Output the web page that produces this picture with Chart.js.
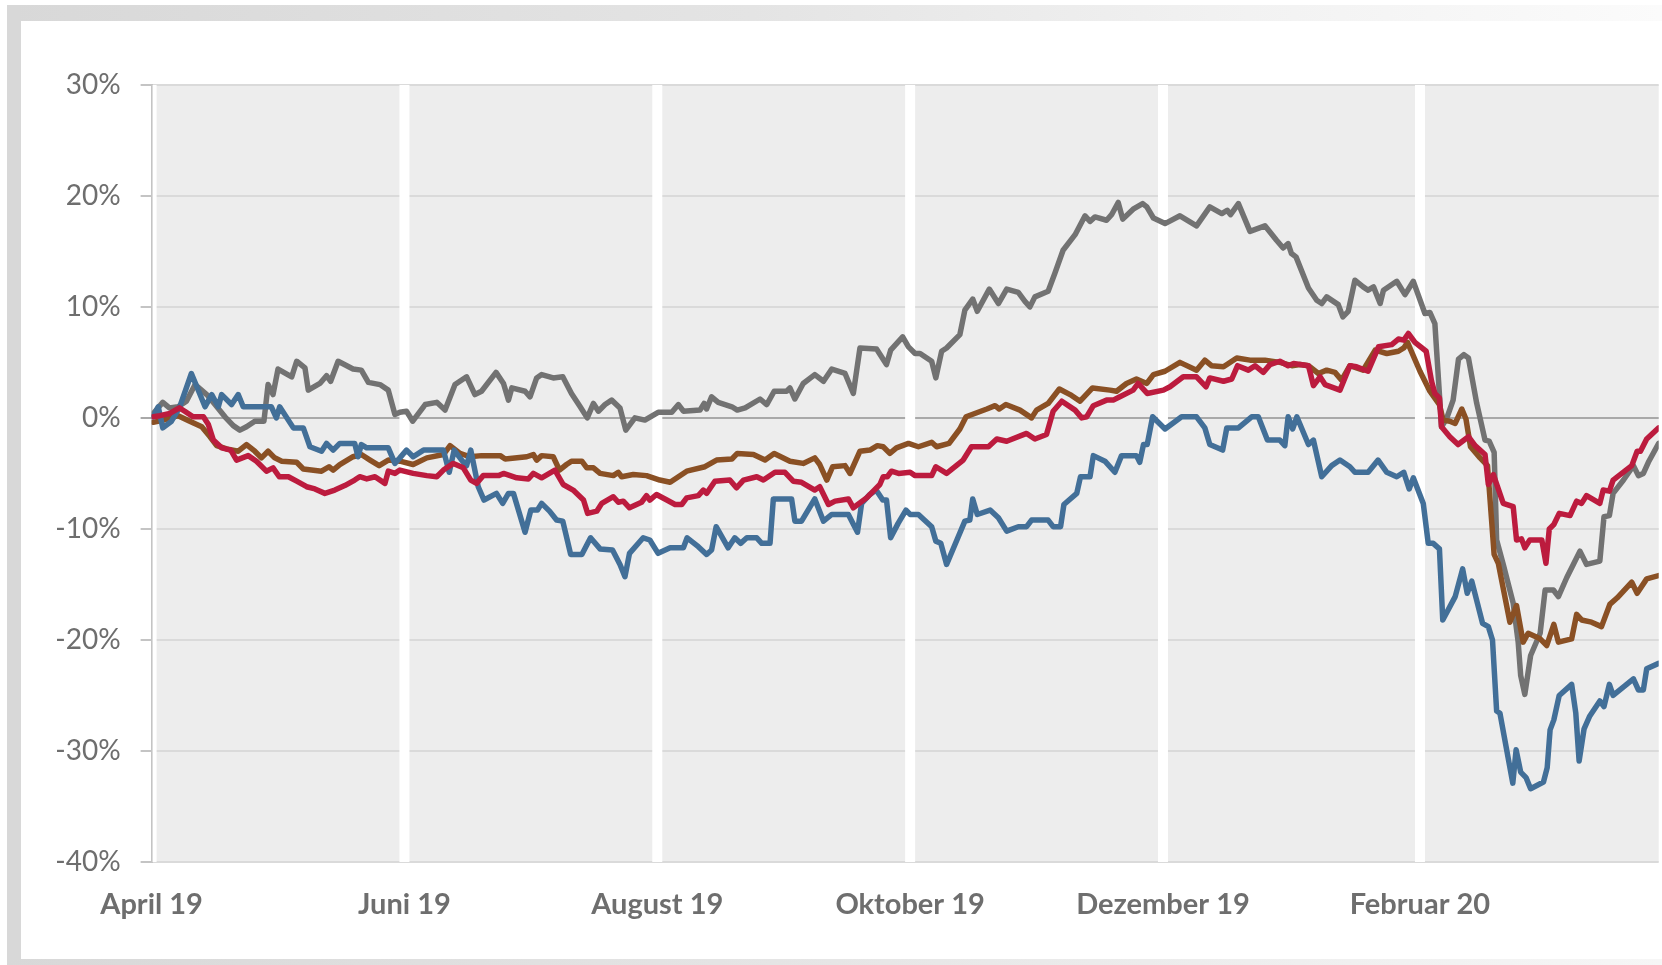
<!DOCTYPE html>
<html><head><meta charset="utf-8">
<script src="https://cdn.jsdelivr.net/npm/chart.js@4.4.1/dist/chart.umd.min.js"></script>
<style>
html,body{margin:0;padding:0;background:#fff;width:1662px;height:965px;overflow:hidden;}
#ftop{position:absolute;left:7px;top:5px;width:1655px;height:16px;background:linear-gradient(to right,#d8d8d8,#e4e4e4 45%,#f2f2f2 75%,#fbfbfb);}
#fleft{position:absolute;left:7px;top:5px;width:14px;height:960px;background:#d8d8d8;}
#fbottom{position:absolute;left:7px;top:959px;width:1655px;height:6px;background:linear-gradient(to right,#d8d8d8,#e6e6e6 50%,#f6f6f6);}
#c{position:absolute;left:0;top:0;}
</style></head>
<body>
<div id="ftop"></div><div id="fleft"></div><div id="fbottom"></div>
<canvas id="c" width="1662" height="965"></canvas>
<script>
// Day offsets since 1 April 2019
const monthTicks = [0, 61, 122, 183, 244, 306];
const monthLabels = ['April 19', 'Juni 19', 'August 19', 'Oktober 19', 'Dezember 19', 'Februar 20'];
const yTickValues = [-40, -30, -20, -10, 0, 10, 20, 30];

const grayDays = [0,2.7,4.3,6.4,8.4,10.5,13.3,15.3,17.7,19.7,21.3,22.9,24.9,27.1,28.1,29.3,30.5,33.8,35.0,37.0,37.8,40.6,42.2,43.2,45.0,48.6,50.6,52.3,55.1,57.1,58.7,
59.9,61.5,63.0,66.0,68.8,70.8,73.2,76.0,78.0,79.6,83.1,84.9,86.1,86.9,90.1,91.3,92.9,94.1,96.9,99.2,101.3,103.4,105.1,106.6,107.8,109.4,111.0,113.0,114.4,116.6,119.0,
122.2,125.5,127.1,128.3,132.3,133.3,133.9,135.1,136.7,140.0,141.3,143.2,146.8,148.4,150.2,153.2,154.0,155.2,157.2,160.0,162.1,164.1,167.3,169.3,170.9,174.9,177.3,178.3,181.2,
182.6,184.2,185.4,188.2,189.2,190.6,191.8,195.0,196.2,198.1,199.2,202.1,204.3,206.3,209.1,210.7,211.9,213.1,216.3,217.9,219.9,222.8,225.2,226.4,227.6,230.4,231.6,233.2,234.3,236.8,239.1,240.1,
241.7,244.5,248.1,252.1,255.3,258.2,259.5,260.3,262.2,265.0,268.6,271.4,273.0,274.2,275.0,276.1,279.1,281.1,282.3,283.5,286.3,287.4,288.7,290.3,292.3,293.5,294.8,296.4,297.2,300.4,
302.4,304.4,307.2,308.4,309.6,311.2,312.4,314.0,315.3,316.6,317.7,319.7,321.7,322.7,323.9,324.5,326.1,328.5,329.7,330.3,331.3,332.7,335.0,336.2,338.2,339.4,341.4,343.0,344.6,346.2,349.4,350.4,351.7,352.6,355.1,357.5,358.7,359.9,361.1,363.6];
const grayValues = [0.2,1.4,0.9,1.0,1.5,3.0,2.1,1.2,0.1,-0.7,-1.1,-0.8,-0.3,-0.3,3.0,2.1,4.4,3.7,5.1,4.5,2.5,3.1,3.8,3.3,5.1,4.4,4.3,3.2,3.0,2.5,0.3,
0.5,0.6,-0.3,1.2,1.4,0.7,3.0,3.7,2.1,2.4,4.1,3.1,1.6,2.7,2.4,1.9,3.6,3.9,3.6,3.7,2.2,1.0,0.0,1.3,0.6,1.2,1.6,0.9,-1.1,0.0,-0.2,
0.5,0.5,1.2,0.6,0.7,1.3,0.8,1.9,1.4,1.0,0.7,0.9,1.7,1.2,2.4,2.4,2.7,1.7,3.1,3.9,3.3,4.4,4.0,2.2,6.3,6.2,4.8,6.1,7.3,
6.4,5.8,5.8,5.1,3.6,6.0,6.3,7.5,9.7,10.7,9.6,11.6,10.3,11.6,11.3,10.5,10.0,10.9,11.4,13.0,15.1,16.5,18.2,17.7,18.1,17.8,18.3,19.4,17.9,18.8,19.3,19.0,
18.0,17.5,18.2,17.3,19.0,18.4,18.7,18.3,19.3,16.8,17.3,16.0,15.3,15.7,14.8,14.5,11.7,10.6,10.3,10.9,10.2,9.1,9.6,12.4,11.8,11.5,11.8,10.3,11.5,12.3,
11.1,12.3,9.4,9.5,8.5,-0.8,-0.1,1.6,5.3,5.7,5.4,1.3,-2.0,-2.1,-3.1,-11.0,-13.2,-16.7,-20.2,-23.2,-24.9,-21.4,-19.4,-15.5,-15.5,-16.1,-14.4,-13.2,-12.0,-13.2,-12.9,-8.9,-8.8,-6.8,-5.6,-4.3,-5.2,-5.0,-4.0,-2.3];

const blueDays = [0.4,1.6,2.7,4.8,6.7,9.6,12.9,14.5,16.1,16.9,19.3,20.9,22.1,28.9,30.1,30.9,34.2,36.6,38.2,41.0,42.2,43.8,45.4,49.0,49.8,50.6,51.9,57.1,58.7,
59.9,61.5,63.1,65.6,70.4,71.8,73.0,74.8,76.0,77.0,78.8,80.2,83.2,84.7,86.1,87.3,90.1,91.5,93.1,94.1,96.0,97.7,99.2,101.1,103.8,105.9,108.2,111.2,113.0,114.2,115.3,118.6,
120.2,122.2,125.1,128.3,129.2,131.9,133.9,135.1,136.2,139.1,140.7,142.1,143.6,146.0,147.2,149.2,150.0,154.4,155.2,156.8,160.0,162.1,164.1,168.1,170.3,171.3,173.3,174.8,176.4,177.3,178.3,180.1,
182.0,183.0,185.0,188.2,189.2,190.4,191.8,196.2,197.4,198.1,199.2,202.3,204.3,206.3,209.1,211.1,212.3,216.3,217.5,219.3,220.1,223.2,224.1,226.4,227.2,230.0,232.4,234.0,237.6,238.4,239.3,240.2,
241.5,244.5,248.5,252.1,254.1,255.3,258.4,259.4,262.2,265.4,267.0,269.2,272.2,273.4,274.2,275.3,276.3,279.1,280.3,282.3,284.7,286.7,289.1,290.3,293.5,295.9,298.0,300.4,
302.1,303.4,304.4,306.8,308.0,309.2,310.7,311.5,314.5,316.3,317.4,318.5,321.1,322.5,323.5,324.5,325.3,328.4,329.2,330.3,331.6,332.7,335.8,336.7,337.4,338.3,339.6,342.6,343.6,344.4,345.6,346.9,349.4,350.4,351.7,352.6,357.5,358.7,359.9,360.7,363.6];
const blueValues = [0.1,1.0,-0.9,-0.3,0.9,4.0,1.0,2.1,1.0,2.1,1.2,2.1,1.0,1.0,0.0,1.0,-0.9,-0.9,-2.6,-3.0,-2.3,-2.9,-2.3,-2.3,-3.5,-2.4,-2.7,-2.7,-4.1,
-3.6,-2.9,-3.5,-2.9,-2.9,-4.9,-2.9,-3.8,-4.3,-2.9,-6.2,-7.4,-6.8,-7.7,-6.8,-6.8,-10.3,-8.3,-8.3,-7.7,-8.4,-9.2,-9.3,-12.3,-12.3,-10.8,-11.8,-11.9,-13.2,-14.3,-12.2,-10.8,
-11.0,-12.2,-11.7,-11.7,-10.8,-11.6,-12.3,-11.9,-9.8,-11.7,-10.8,-11.3,-10.8,-10.8,-11.3,-11.3,-7.3,-7.3,-9.3,-9.3,-7.3,-9.3,-8.7,-8.7,-10.3,-7.7,-6.9,-6.5,-7.4,-7.4,-10.8,-9.5,
-8.3,-8.7,-8.7,-9.8,-11.1,-11.3,-13.2,-9.3,-9.2,-7.3,-8.7,-8.3,-9.0,-10.2,-9.8,-9.8,-9.2,-9.2,-9.8,-9.8,-7.8,-6.8,-5.3,-5.3,-3.4,-3.9,-4.9,-3.4,-3.4,-4.0,-2.4,-2.4,
0.1,-1.0,0.1,0.1,-0.9,-2.4,-2.9,-0.9,-0.9,0.1,0.1,-2.0,-2.0,-2.5,0.1,-1.0,0.1,-2.4,-2.0,-5.3,-4.3,-3.8,-4.4,-4.9,-4.9,-3.8,-4.9,-5.3,
-4.9,-6.4,-5.4,-7.7,-11.3,-11.3,-11.8,-18.2,-16.1,-13.6,-15.8,-14.7,-18.5,-18.8,-20.0,-26.4,-26.6,-32.9,-29.9,-31.9,-32.4,-33.4,-32.8,-31.5,-28.1,-27.2,-25.0,-24.0,-26.6,-30.9,-28.0,-26.9,-25.5,-26.0,-24.0,-25.0,-23.5,-24.5,-24.5,-22.6,-22.1];

const brownDays = [0.4,2.8,6.4,9.2,12.1,14.1,15.7,18.1,20.9,22.9,24.9,26.5,28.1,29.7,31.4,35.0,36.6,41.0,42.8,43.8,45.4,48.6,50.6,52.7,54.9,57.1,
59.9,63.1,66.4,70.4,72.0,74.4,76.8,79.6,84.1,85.3,90.5,92.1,92.9,94.1,96.9,98.4,100.1,101.3,103.8,105.0,106.6,108.2,111.4,112.6,113.4,116.2,119.4,
122.6,125.1,129.1,133.5,136.3,140.0,141.3,145.2,148.0,150.2,154.0,157.2,160.0,161.2,162.9,164.3,167.3,168.5,170.9,173.3,175.1,176.5,178.1,179.7,
182.6,185.0,188.2,189.4,192.4,195.0,196.5,198.6,201.5,203.5,204.5,206.1,209.5,212.3,213.5,216.3,219.0,221.6,224.0,227.0,231.2,232.8,235.2,237.6,240.1,
241.7,244.5,248.1,252.1,254.1,255.7,258.6,259.8,261.8,265.0,268.6,272.2,275.1,277.1,279.1,281.5,283.5,285.5,287.1,289.1,292.3,295.2,298.0,300.8,
302.1,303.0,306.0,308.4,310.7,311.6,313.2,314.5,316.1,317.1,318.2,320.5,322.3,323.9,324.9,327.7,329.3,330.9,332.1,335.0,336.6,338.3,339.4,342.6,343.8,345.0,347.4,349.8,351.8,353.6,357.1,358.4,360.7,363.6];
const brownValues = [-0.4,-0.2,0.2,-0.3,-0.8,-1.7,-2.5,-2.8,-3.0,-2.4,-3.0,-3.6,-3.0,-3.6,-3.9,-4.0,-4.6,-4.8,-4.4,-4.7,-4.2,-3.5,-3.3,-3.8,-4.3,-3.8,
-3.9,-4.2,-3.6,-3.3,-2.5,-3.2,-3.5,-3.4,-3.4,-3.7,-3.5,-3.3,-3.8,-3.4,-3.5,-4.7,-4.2,-3.9,-3.9,-4.5,-4.5,-5.0,-5.2,-4.9,-5.3,-5.1,-5.2,
-5.6,-5.8,-4.8,-4.4,-3.8,-3.7,-3.2,-3.3,-3.8,-3.2,-3.9,-4.1,-3.6,-4.2,-5.6,-4.4,-4.3,-5.0,-3.0,-2.9,-2.5,-2.6,-3.2,-2.7,
-2.3,-2.6,-2.2,-2.6,-2.3,-1.0,0.1,0.4,0.8,1.1,0.8,1.2,0.7,0.0,0.7,1.3,2.6,2.1,1.5,2.7,2.5,2.4,3.1,3.5,3.1,
3.9,4.2,5.0,4.3,5.2,4.7,4.6,4.9,5.4,5.2,5.2,5.0,4.7,4.8,4.7,4.0,4.3,4.1,3.4,4.7,4.3,6.1,5.8,6.0,
6.3,6.8,4.2,2.4,1.2,-0.2,-0.3,-0.5,0.8,-0.1,-2.6,-3.6,-4.3,-12.3,-13.1,-18.4,-16.9,-20.2,-19.4,-19.9,-20.5,-18.6,-20.2,-19.9,-17.7,-18.2,-18.4,-18.8,-16.8,-16.2,-14.8,-15.8,-14.5,-14.2];

const redDays = [0.4,2.0,4.4,6.7,8.0,10.0,12.5,13.7,14.9,16.9,19.1,20.5,23.3,25.3,27.7,29.3,30.8,33.0,35.0,37.4,39.4,41.8,44.2,46.6,49.0,50.2,51.9,53.9,56.3,57.1,58.7,
59.9,63.1,66.4,68.8,70.4,72.8,75.2,77.0,78.4,80.0,83.7,84.9,88.1,90.9,92.1,94.1,97.3,99.3,101.7,104.2,105.2,107.4,108.6,111.4,112.6,113.8,115.3,118.2,119.4,
120.2,121.8,124.3,126.3,127.9,129.1,131.9,133.1,133.9,135.9,139.5,141.1,142.8,146.0,147.6,150.4,152.8,154.8,156.8,160.0,161.2,163.3,164.9,168.1,169.3,172.5,175.7,176.5,177.5,178.5,180.2,
183.0,184.2,188.2,189.2,191.8,195.8,197.8,201.9,203.9,206.3,211.1,213.1,215.9,217.5,219.6,222.8,224.4,225.6,227.2,230.4,232.0,233.6,236.8,238.0,240.2,
244.1,245.7,248.9,252.1,254.4,255.3,258.6,260.6,262.0,264.6,266.2,268.2,269.8,272.2,274.2,275.5,279.1,280.3,281.9,283.1,286.7,289.1,290.7,293.5,296.0,299.2,300.8,
302.1,303.2,304.8,307.5,308.8,309.6,310.7,311.2,313.2,315.2,317.7,319.3,321.7,322.5,323.7,326.1,328.5,329.3,330.5,331.3,332.5,335.4,336.4,337.2,338.3,339.6,342.2,343.8,345.0,346.2,349.4,350.2,351.7,352.6,357.1,358.4,359.2,360.7,363.6];
const redValues = [0.1,0.2,0.4,0.9,0.6,0.1,0.1,-0.6,-2.0,-2.7,-2.9,-3.8,-3.4,-3.9,-4.8,-4.5,-5.3,-5.3,-5.7,-6.2,-6.4,-6.8,-6.5,-6.1,-5.6,-5.3,-5.5,-5.3,-5.9,-4.8,-5.0,
-4.7,-5.0,-5.2,-5.3,-4.7,-4.1,-4.5,-5.6,-5.9,-5.2,-5.2,-5.0,-5.4,-5.5,-5.0,-5.4,-4.7,-6.0,-6.5,-7.4,-8.6,-8.4,-7.7,-7.1,-7.6,-7.5,-8.1,-7.6,-7.0,
-7.4,-6.9,-7.4,-7.8,-7.8,-7.2,-7.0,-6.5,-6.8,-5.7,-5.6,-6.3,-5.6,-5.3,-5.6,-4.9,-4.9,-5.7,-5.8,-6.5,-6.2,-7.8,-7.5,-7.3,-8.1,-7.2,-6.0,-5.3,-5.3,-4.8,-5.0,
-4.9,-5.2,-5.2,-4.4,-5.0,-3.8,-2.6,-2.6,-1.9,-2.1,-1.4,-1.9,-1.5,0.6,1.5,0.7,0.0,0.1,1.1,1.6,1.6,1.9,2.5,3.1,2.2,
2.5,2.8,3.7,3.7,2.8,3.6,3.3,3.5,4.7,4.3,4.7,4.1,4.8,5.1,4.7,4.9,4.7,2.9,3.7,3.0,2.5,4.7,4.6,4.2,6.4,6.6,7.1,
7.0,7.6,6.8,6.0,3.3,2.2,1.8,-0.8,-1.7,-2.4,-1.7,-2.5,-3.3,-6.0,-5.1,-7.7,-8.0,-11.0,-10.9,-11.7,-11.0,-11.0,-13.1,-10.0,-9.6,-8.6,-8.8,-7.5,-7.7,-7.0,-7.7,-6.5,-6.6,-5.6,-4.3,-3.0,-3.0,-1.9,-0.9];

function pts(d, v) { return d.map((x, i) => ({ x: x, y: v[i] })); }

const plotPlugin = {
  id: 'plotDecor',
  beforeDraw(chart) {
    const { ctx, chartArea: a } = chart;
    ctx.save();
    ctx.fillStyle = '#ededed';
    ctx.fillRect(a.left, a.top, a.right - a.left, a.bottom - a.top);
    ctx.restore();
  },
  beforeDatasetsDraw(chart) {
    const { ctx, chartArea: a } = chart;
    const xs = chart.scales.x;
    ctx.save();
    ctx.beginPath();
    ctx.rect(a.left + 1, a.top, a.right - a.left - 1, a.bottom - a.top);
    ctx.clip();
    ctx.fillStyle = '#ffffff';
    monthTicks.forEach(v => {
      const p = xs.getPixelForValue(v);
      ctx.fillRect(p - 5, a.top, 10, a.bottom - a.top);
    });
    ctx.restore();
  }
};

const lineStyle = { borderWidth: 5.5, pointRadius: 0, tension: 0, fill: false, borderJoinStyle: 'round', borderCapStyle: 'round' };

new Chart(document.getElementById('c'), {
  type: 'line',
  data: {
    datasets: [
      Object.assign({ label: 'Rot', data: pts(redDays, redValues), borderColor: '#bc1b3e' }, lineStyle),
      Object.assign({ label: 'Blau', data: pts(blueDays, blueValues), borderColor: '#426f98' }, lineStyle),
      Object.assign({ label: 'Braun', data: pts(brownDays, brownValues), borderColor: '#8a5024' }, lineStyle),
      Object.assign({ label: 'Grau', data: pts(grayDays, grayValues), borderColor: '#727272' }, lineStyle)
    ]
  },
  options: {
    responsive: false,
    animation: false,
    devicePixelRatio: 1,
    layout: { padding: { left: 0, top: 84.8, right: 3.3, bottom: 0 } },
    plugins: { legend: { display: false }, tooltip: { enabled: false } },
    scales: {
      x: {
        type: 'linear',
        min: 0,
        max: 363.6,
        afterBuildTicks: s => { s.ticks = monthTicks.map(v => ({ value: v })); },
        afterFit: s => { s.height = 103; },
        grid: { display: false, drawTicks: false },
        border: { display: false },
        ticks: {
          autoSkip: false, maxRotation: 0, padding: 25,
          color: '#6e6e6e',
          font: { family: 'Lato', size: 29, weight: 'bold' },
          callback: v => monthLabels[monthTicks.indexOf(v)]
        }
      },
      y: {
        min: -40,
        max: 30,
        afterBuildTicks: s => { s.ticks = yTickValues.map(v => ({ value: v })); },
        afterFit: s => { s.width = 151.6; },
        grid: {
          color: c => (c.tick && c.tick.value === 0) ? '#a9a9a9' : '#dadada',
          tickColor: c => (c.tick && c.tick.value === 0) ? '#a9a9a9' : '#c4c4c4',
          lineWidth: 2,
          tickLength: 11
        },
        border: { display: true, color: '#c4c4c4', width: 2 },
        ticks: {
          padding: 20,
          color: '#6e6e6e',
          font: { family: 'Lato', size: 28 },
          callback: v => v + '%'
        }
      }
    }
  },
  plugins: [plotPlugin]
});
</script>
</body></html>
